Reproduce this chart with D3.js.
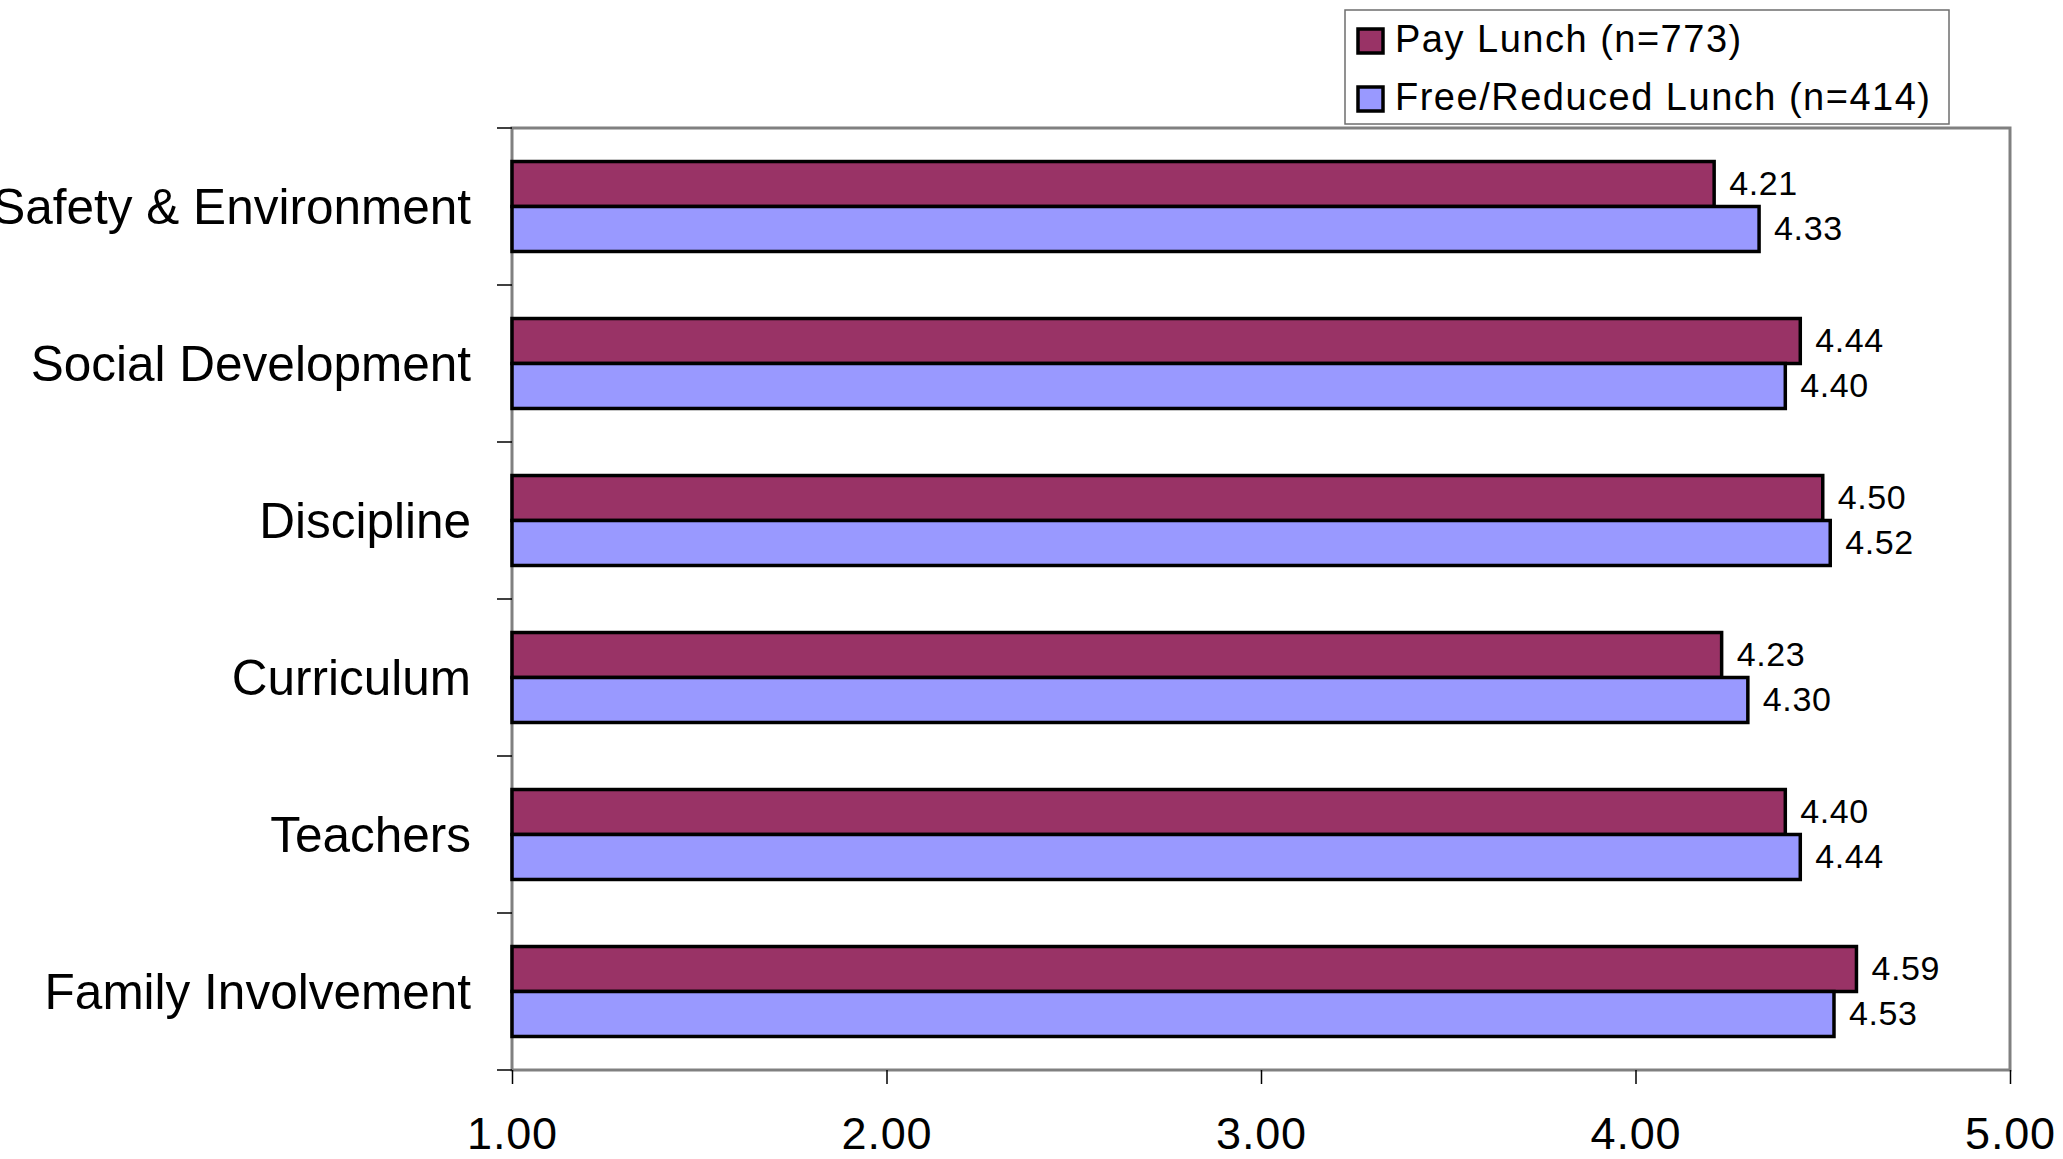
<!DOCTYPE html>
<html>
<head>
<meta charset="utf-8">
<script src="https://cdn.jsdelivr.net/npm/d3@7"></script>
<style>
  html, body { margin: 0; padding: 0; background: #ffffff; }
  svg { display: block; }
  text { font-family: "Liberation Sans", Arial, sans-serif; fill: #000; }
</style>
</head>
<body>
<svg id="chart" width="2063" height="1159"></svg>
<script>
// ---- data ----
const categories = ["Safety & Environment", "Social Development", "Discipline", "Curriculum", "Teachers", "Family Involvement"];
const seriesNames = ["Pay Lunch (n=773)", "Free/Reduced Lunch (n=414)"];
const payLunch = [4.21, 4.44, 4.50, 4.23, 4.40, 4.59];
const freeReduced = [4.33, 4.40, 4.52, 4.30, 4.44, 4.53];
const xTicks = [1, 2, 3, 4, 5];
const colors = ["#993366", "#9999FF"];

const seriesValues = [payLunch, freeReduced];
const rows = categories.map((c, i) => ({
  category: c,
  values: seriesNames.map((s, j) => ({ series: s, idx: j, value: seriesValues[j][i] }))
}));

// ---- layout ----
const plot = { left: 512, right: 2010, top: 128, bottom: 1070 };
const svg = d3.select("#chart");

const x = d3.scaleLinear().domain([1, 5]).range([plot.left, plot.right]);
const y0 = d3.scaleBand().domain(categories).range([plot.top, plot.bottom])
  .paddingInner(0.427).paddingOuter(0.2135);
const y1 = d3.scaleBand().domain(seriesNames).range([0, y0.bandwidth()]);

// plot area border
svg.append("rect")
  .attr("x", plot.left).attr("y", plot.top)
  .attr("width", plot.right - plot.left).attr("height", plot.bottom - plot.top)
  .attr("fill", "#ffffff").attr("stroke", "#808080").attr("stroke-width", 3);

// bars
const groups = svg.append("g").selectAll("g").data(rows).join("g")
  .attr("transform", d => `translate(0,${y0(d.category)})`);

groups.selectAll("rect").data(d => d.values).join("rect")
  .attr("x", x(1))
  .attr("y", d => y1(d.series))
  .attr("width", d => x(d.value) - x(1))
  .attr("height", y1.bandwidth())
  .attr("fill", d => colors[d.idx])
  .attr("stroke", "#000").attr("stroke-width", 3.5);

groups.selectAll("text").data(d => d.values).join("text")
  .attr("x", d => x(d.value) + 15)
  .attr("y", d => y1(d.series) + y1.bandwidth() / 2 + 11)
  .attr("font-size", 34).attr("letter-spacing", 0.6)
  .text(d => d.value.toFixed(2));

// x axis (bottom)
const xAxis = d3.axisBottom(x).tickValues(xTicks).tickFormat(d3.format(".2f"))
  .tickSizeInner(14).tickSizeOuter(0).tickPadding(33);
const gx = svg.append("g").attr("transform", `translate(0,${plot.bottom})`).call(xAxis);
gx.select(".domain").remove();
gx.selectAll(".tick line").attr("stroke", "#000").attr("stroke-width", 1.5);
gx.selectAll(".tick text").attr("font-size", 45).attr("font-family", "Liberation Sans, Arial, sans-serif")
  .attr("fill", "#000").attr("letter-spacing", 0.8).attr("dy", "0.71em");

// y axis (left) - ticks at category boundaries, labels centered
const boundaries = d3.range(categories.length + 1).map(i => plot.top + i * y0.step());
svg.append("g").selectAll("line").data(boundaries).join("line")
  .attr("x1", plot.left - 15).attr("x2", plot.left)
  .attr("y1", d => d).attr("y2", d => d)
  .attr("stroke", "#000").attr("stroke-width", 1.5);

svg.append("g").selectAll("text").data(categories).join("text")
  .attr("x", plot.left - 41)
  .attr("y", d => y0(d) + y0.bandwidth() / 2 + 17)
  .attr("text-anchor", "end")
  .attr("font-size", 49.5)
  .text(d => d);

// legend
const legend = svg.append("g");
legend.append("rect")
  .attr("x", 1345).attr("y", 10).attr("width", 604).attr("height", 114)
  .attr("fill", "#fff").attr("stroke", "#6e6e6e").attr("stroke-width", 1.5);
const li = legend.selectAll("g").data(seriesNames).join("g")
  .attr("transform", (d, i) => `translate(1358,${29 + i * 58})`);
li.append("rect").attr("width", 25).attr("height", 24)
  .attr("fill", (d, i) => colors[i]).attr("stroke", "#000").attr("stroke-width", 3.5);
li.append("text").attr("x", 37).attr("y", 23)
  .attr("font-size", 38).attr("letter-spacing", 1.5)
  .text(d => d);
</script>
</body>
</html>
